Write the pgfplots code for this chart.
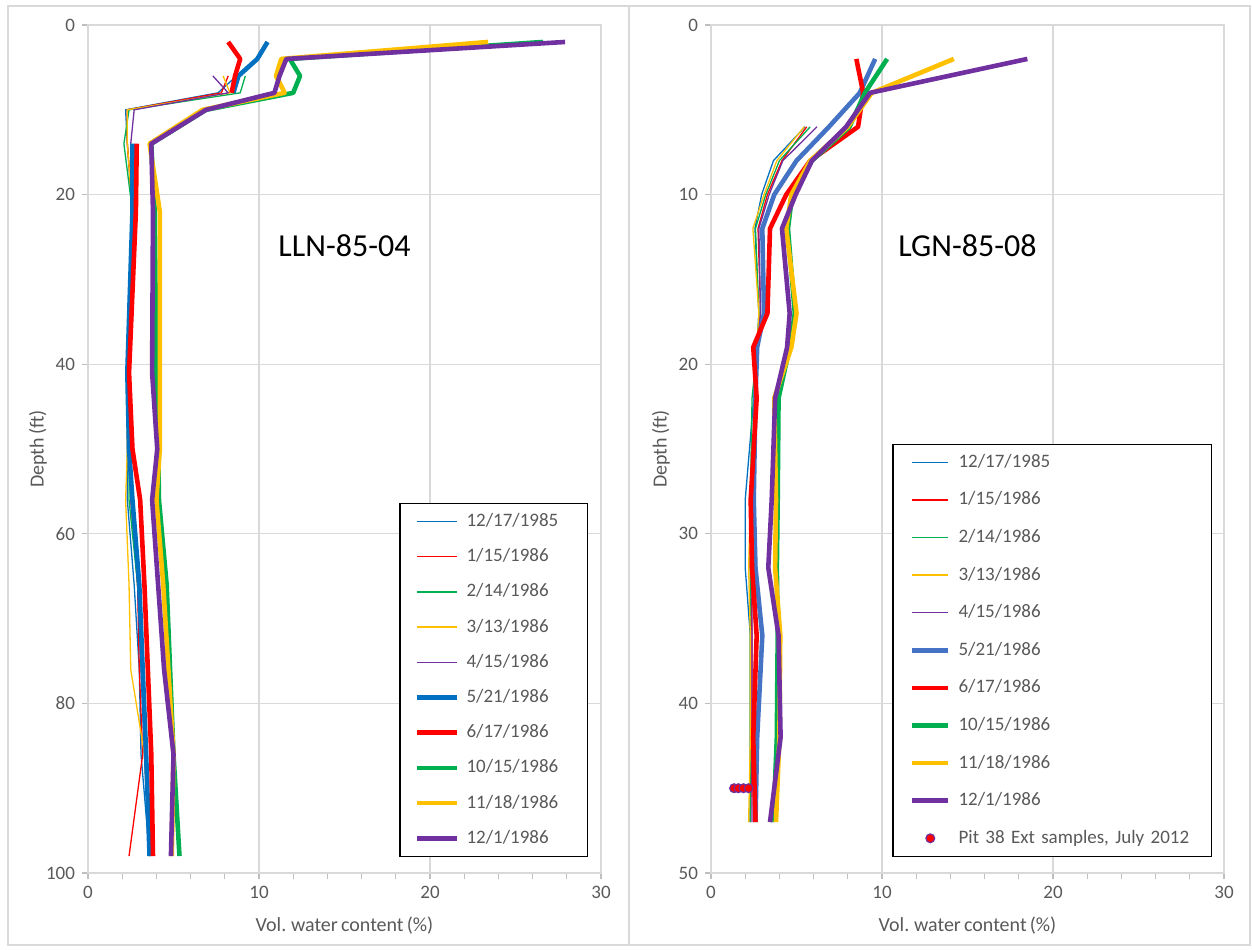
\documentclass[border=0pt]{standalone}
\usepackage{pgfplots}
\pgfplotsset{compat=1.18}
\usepackage{pgfplotstable}
\usepackage{fontspec}
\setmainfont{Carlito}[WordSpace=0.7]
\definecolor{cblue}{HTML}{0070C0}
\definecolor{cblueb}{HTML}{4472C4}
\definecolor{cred}{HTML}{FF0000}
\definecolor{cgreen}{HTML}{00B050}
\definecolor{cyellow}{HTML}{FFC000}
\definecolor{cpurple}{HTML}{7030A0}
\definecolor{cgrid}{HTML}{D9D9D9}
\definecolor{caxis}{HTML}{BFBFBF}
\definecolor{ctext}{HTML}{595959}

\pgfplotstableread{
d   s1  s2  s3  s4  s5  s6   s7   s8   s9   s10
2   nan nan nan nan nan 10.5 8.2  26.6 23.4 27.9
4   nan nan nan nan nan 9.9  8.9  11.8 11.3 11.6
6   8.7 8.2 9.2 7.9 7.3 8.8  8.6  12.4 11.0 11.2
8   7.6 7.8 8.9 8.3 8.2 8.5  8.4  12.0 11.5 10.9
10  2.2 2.3 2.4 2.3 2.7 nan  nan  6.9  6.7  6.9
14  2.3 2.3 2.1 2.3 2.5 2.6  2.85 3.7  3.6  3.7
22  2.6 2.6 2.6 2.6 2.6 2.6  2.8  3.9  4.2  3.8
41  2.3 2.4 2.4 2.3 2.4 2.3  2.4  4.0  4.2  3.75
50  2.3 2.4 2.4 2.3 2.5 2.4  2.6  4.1  4.2  4.05
56  2.3 2.5 2.4 2.2 2.6 2.6  3.05 4.15 4.0  3.75
66  2.7 2.9 2.9 2.4 2.9 3.0  3.3  4.6  4.4  4.1
76  3.0 3.0 3.2 2.5 3.1 3.2  3.5  4.8  4.7  4.45
86  3.1 3.2 3.4 3.3 3.3 3.4  3.7  5.0  5.0  5.0
98  3.6 2.4 3.6 3.6 3.6 3.6  3.8  5.35 4.9  4.85
}\leftdata

\pgfplotstableread{
d   s1   s2   s3   s4   s5   s6   s7   s8   s9   s10
2   nan  nan  nan  nan  nan  9.6  8.5  10.3 14.2 18.5
4   nan  nan  nan  nan  nan  8.7  8.9  9.0  9.4  9.3
6   5.5  5.6  5.8  5.45 6.2  6.9  8.6  8.1  8.0  7.9
8   3.65 4.15 4.0  3.85 4.2  5.0  5.8  5.9  5.8  5.9
10  2.96 3.3  3.2  3.1  3.4  3.7  4.4  4.75 4.7  4.95
12  2.57 2.75 2.6  2.45 2.8  3.0  3.45 4.5  4.4  4.15
17  2.8  2.9  2.8  2.8  2.9  3.1  3.3  4.9  5.0  4.6
19  2.7  2.6  2.7  2.7  2.7  2.7  2.47 4.6  4.7  4.45
22  2.5  2.6  2.4  2.6  2.6  2.6  2.67 3.95 3.7  3.75
28  2.0  2.3  2.3  2.3  2.4  2.5  2.32 3.9  3.8  3.55
32  2.0  2.3  2.3  2.2  2.4  2.6  2.4  3.85 3.75 3.35
36  2.3  2.4  2.3  2.3  2.4  3.0  2.67 3.9  4.05 3.95
42  2.3  2.4  2.3  2.3  2.4  2.7  2.47 3.85 4.0  4.07
47  2.3  2.3  2.3  2.2  2.4  2.6  2.6  3.65 3.8  3.45
}\rightdata

\pgfplotstableread{
v    d
1.35 45
1.6  45
1.9  45
2.2  45
}\pitdata

\tikzset{
  tl/.style={line width=0.65pt, line join=round},
  tk/.style={line width=2.3pt, line join=round},
}
\pgfplotsset{
  base/.style={
    scale only axis, width=256.5pt, height=424pt,
    xmin=0, xmax=30, ymin=0, y dir=reverse,
    xtick={0,10,20,30}, minor x tick num=4,
    grid=major, major grid style={draw=cgrid, line width=0.6pt},
    axis line style={draw=cgrid, line width=0.6pt},
    tick style={draw=caxis, line width=0.6pt},
    tick align=outside, major tick length=3pt, minor tick length=3pt,
    xtick pos=lower, xticklabel pos=lower, ytick pos=left,
    ticklabel style={font=\fontsize{9.5}{11}\selectfont, text=ctext},
    /pgf/number format/assume math mode=true,
    label style={font=\fontsize{10}{12}\selectfont, text=ctext},
    xlabel={Vol. water content (\%)}, ylabel={Depth (ft)},
    xlabel style={at={(axis description cs:0.5,-0.062)}, anchor=center},
    ylabel style={at={(axis description cs:-0.0975,0.5)}, anchor=center},
    unbounded coords=jump,
    legend cell align=left,
  },
  linelegA/.style={legend image code/.code={\draw[##1] (0pt,0pt) -- (20pt,0pt);}},
  linelegB/.style={legend image code/.code={\draw[##1] (0pt,0pt) -- (18pt,0pt);}},
  pitleg/.style={legend image code/.code={\draw[mark repeat=2, mark phase=2, ##1] plot coordinates {(0pt,0pt) (9pt,0pt) (18pt,0pt)};}},
}

\begin{document}
\begin{tikzpicture}
\path[use as bounding box] (0pt,0pt) rectangle (626pt,474.5pt);
\draw[cgrid, line width=0.6pt] (4pt,2pt) rectangle (314.5pt,471.5pt);
\draw[cgrid, line width=0.6pt] (314.5pt,2pt) rectangle (625pt,471.5pt);

\begin{axis}[base, at={(44pt,38pt)}, anchor=south west,
  ymax=100, ytick={0,20,40,60,80,100},
  linelegA,
  legend style={at={(0.975,0.019)}, anchor=south east, draw=black, line width=0.6pt,
    font=\fontsize{9.5}{11}\selectfont, text=ctext,
    inner xsep=7.5pt, inner ysep=4.5pt, row sep=8.6pt, column sep=3.5pt,
    nodes={inner sep=0pt, text height=7pt, text depth=2pt},
    /tikz/column 2/.style={nodes={text width=53pt, align=left}}},
]
\addplot[tl, cblue]   table[x=s1, y=d] {\leftdata}; \addlegendentry{12/17/1985}
\addplot[tl, cred]    table[x=s2, y=d] {\leftdata}; \addlegendentry{1/15/1986}
\addplot[tl, cgreen]  table[x=s3, y=d] {\leftdata}; \addlegendentry{2/14/1986}
\addplot[tl, cyellow] table[x=s4, y=d] {\leftdata}; \addlegendentry{3/13/1986}
\addplot[tl, cpurple] table[x=s5, y=d] {\leftdata}; \addlegendentry{4/15/1986}
\addplot[tk, cblue]   table[x=s6, y=d] {\leftdata}; \addlegendentry{5/21/1986}
\addplot[tk, cred]    table[x=s7, y=d] {\leftdata}; \addlegendentry{6/17/1986}
\addplot[tk, cgreen]  table[x=s8, y=d] {\leftdata}; \addlegendentry{10/15/1986}
\addplot[tk, cyellow] table[x=s9, y=d] {\leftdata}; \addlegendentry{11/18/1986}
\addplot[tk, cpurple] table[x=s10, y=d] {\leftdata}; \addlegendentry{12/1/1986}
\node[font=\fontsize{16}{19}\selectfont, text=black] at (axis cs:15,26) {LLN-85-04};
\end{axis}

\begin{axis}[base, at={(355.5pt,38pt)}, anchor=south west,
  ymax=50, ytick={0,10,20,30,40,50},
  linelegB,
  legend style={at={(0.977,0.019)}, anchor=south east, draw=black, line width=0.6pt,
    font=\fontsize{9.5}{11}\selectfont, text=ctext,
    inner xsep=8.5pt, inner ysep=4.5pt, row sep=9.8pt, column sep=4pt,
    nodes={inner sep=0pt, text height=7pt, text depth=2pt},
    /tikz/column 2/.style={nodes={text width=118pt, align=left}}},
]
\addplot[tl, cblue]   table[x=s1, y=d] {\rightdata}; \addlegendentry{12/17/1985}
\addplot[tl, cred]    table[x=s2, y=d] {\rightdata}; \addlegendentry{1/15/1986}
\addplot[tl, cgreen]  table[x=s3, y=d] {\rightdata}; \addlegendentry{2/14/1986}
\addplot[tl, cyellow] table[x=s4, y=d] {\rightdata}; \addlegendentry{3/13/1986}
\addplot[tl, cpurple] table[x=s5, y=d] {\rightdata}; \addlegendentry{4/15/1986}
\addplot[tk, cblueb]  table[x=s6, y=d] {\rightdata}; \addlegendentry{5/21/1986}
\addplot[tk, cred]    table[x=s7, y=d] {\rightdata}; \addlegendentry{6/17/1986}
\addplot[tk, cgreen]  table[x=s8, y=d] {\rightdata}; \addlegendentry{10/15/1986}
\addplot[tk, cyellow] table[x=s9, y=d] {\rightdata}; \addlegendentry{11/18/1986}
\addplot[tk, cpurple] table[x=s10, y=d] {\rightdata}; \addlegendentry{12/1/1986}
\addplot[only marks, mark=*, mark size=2.2pt,
  mark options={fill=cred, draw=cpurple, line width=0.6pt}, pitleg]
  table[x=v, y=d] {\pitdata}; \addlegendentry{Pit 38 Ext samples, July 2012}
\node[font=\fontsize{16}{19}\selectfont, text=black] at (axis cs:15,13) {LGN-85-08};
\end{axis}
\end{tikzpicture}
\end{document}
